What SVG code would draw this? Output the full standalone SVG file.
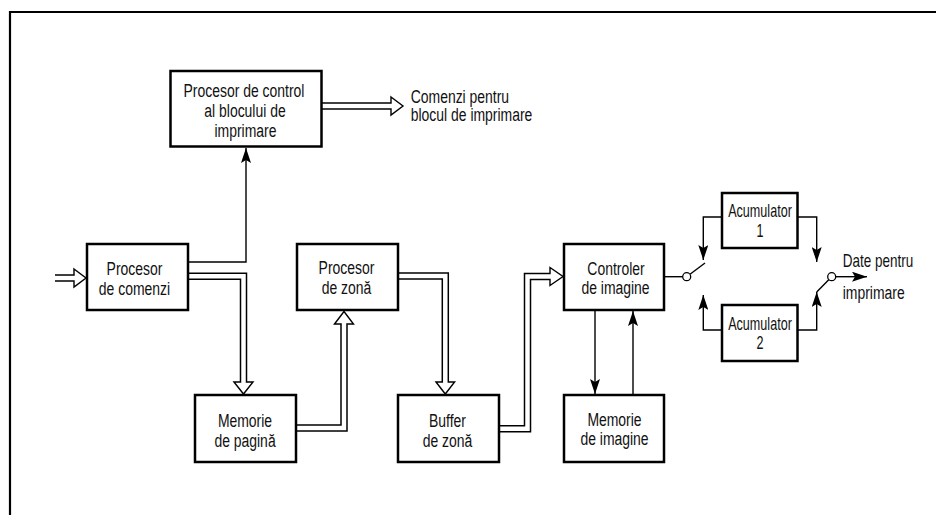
<svg xmlns="http://www.w3.org/2000/svg" width="936" height="515" viewBox="0 0 936 515">
<style>
.box{fill:#fff;stroke:#000;stroke-width:2.5}
.t{font-family:"Liberation Sans",Arial,sans-serif;font-size:18px;fill:#111}
.c{text-anchor:middle}
.hb{fill:none;stroke:#000;stroke-width:7.5;stroke-linejoin:miter}
.hw{fill:none;stroke:#fff;stroke-width:4.5;stroke-linejoin:miter}
.hh{fill:#fff;stroke:#000;stroke-width:1.4;stroke-linejoin:miter}
.ln{fill:none;stroke:#000;stroke-width:1.4}
.sw{fill:#fff;stroke:#000;stroke-width:1.3}
</style>
<defs>
<marker id="ar" viewBox="0 0 15 10" refX="15" refY="5" markerWidth="15" markerHeight="10" markerUnits="userSpaceOnUse" orient="auto">
<path d="M0,0 L15,5 L0,10 L3,5 Z" fill="#000"/>
</marker>
</defs>
<rect width="936" height="515" fill="#fff"/>
<path d="M10,515 V12 H936" fill="none" stroke="#000" stroke-width="2.2"/>
<g id="connectors">
<g id="h-input">
<path class="hb" d="M55,278 H75"/>
<polygon class="hh" points="74,269 86,278 74,287"/>
<path class="hw" d="M55,278 H75.5"/>
</g>
<g id="h-control-out">
<path class="hb" d="M321,106 H392"/>
<polygon class="hh" points="391,97 403,106 391,115"/>
<path class="hw" d="M321,106 H392.5"/>
</g>
<g id="h-cmd-page">
<path class="hb" d="M188,276.3 H243.5 V383"/>
<polygon class="hh" points="234,382 243.5,394 253,382"/>
<path class="hw" d="M188,276.3 H243.5 V383.5"/>
</g>
<g id="h-page-zone">
<path class="hb" d="M296,428 H344 V323"/>
<polygon class="hh" points="334.5,324 344,311.5 353.5,324"/>
<path class="hw" d="M296,428 H344 V322.5"/>
</g>
<g id="h-zone-buffer">
<path class="hb" d="M398,276 H445.3 V383"/>
<polygon class="hh" points="436,382 445.3,394 454.6,382"/>
<path class="hw" d="M398,276 H445.3 V383.5"/>
</g>
<g id="h-buffer-ctrl">
<path class="hb" d="M499,428.8 H527.5 V276.5 H551"/>
<polygon class="hh" points="550,267.5 563,276.5 550,285.5"/>
<path class="hw" d="M499,428.8 H527.5 V276.5 H551.5"/>
</g>
<path class="ln" d="M188,262 H246 V148" marker-end="url(#ar)"/>
<path class="ln" d="M595,311 V394" marker-end="url(#ar)"/>
<path class="ln" d="M633,394 V311" marker-end="url(#ar)"/>
<path class="ln" d="M664,276.7 H682.7"/>
<path class="ln" d="M690,274.3 L705,263"/>
<path class="ln" d="M722,217 H703.3 V260" marker-end="url(#ar)"/>
<path class="ln" d="M722,330 H703.3 V295" marker-end="url(#ar)"/>
<path class="ln" d="M797.5,217 H816.7 V262" marker-end="url(#ar)"/>
<path class="ln" d="M797.5,330 H816.7 V292" marker-end="url(#ar)"/>
<path class="ln" d="M829,279.5 L816.7,292"/>
<path class="ln" d="M835.7,276.7 H867" marker-end="url(#ar)"/>
<circle class="sw" cx="686.7" cy="276.7" r="4"/>
<circle class="sw" cx="831.7" cy="276.7" r="4"/>
</g>
<g id="control">
<rect class="box" x="170.5" y="71" width="151" height="75.5"/>
<text class="t c" transform="translate(244,97) scale(0.775,1)">Procesor de control</text>
<text class="t c" transform="translate(245,117) scale(0.775,1)">al blocului de</text>
<text class="t c" transform="translate(245.5,137) scale(0.775,1)">imprimare</text>
</g>
<g id="out-label">
<text class="t" transform="translate(410.7,102.5) scale(0.775,1)">Comenzi pentru</text>
<text class="t" transform="translate(410.7,121.3) scale(0.775,1)">blocul de imprimare</text>
</g>
<g id="cmd">
<rect class="box" x="87" y="244" width="101" height="66"/>
<text class="t c" transform="translate(134.5,274.5) scale(0.775,1)">Procesor</text>
<text class="t c" transform="translate(134.5,294.5) scale(0.775,1)">de comenzi</text>
</g>
<g id="zone">
<rect class="box" x="297" y="244" width="101" height="66"/>
<text class="t c" transform="translate(346.5,274) scale(0.775,1)">Procesor</text>
<text class="t c" transform="translate(346.5,294) scale(0.775,1)">de zonă</text>
</g>
<g id="ctrl">
<rect class="box" x="564" y="244" width="100" height="66"/>
<text class="t c" transform="translate(616,274.5) scale(0.775,1)">Controler</text>
<text class="t c" transform="translate(615.5,294) scale(0.775,1)">de imagine</text>
</g>
<g id="page">
<rect class="box" x="195" y="395" width="101" height="67"/>
<text class="t c" transform="translate(245,426.5) scale(0.775,1)">Memorie</text>
<text class="t c" transform="translate(245,446.5) scale(0.775,1)">de pagină</text>
</g>
<g id="buffer">
<rect class="box" x="398" y="395" width="101" height="67"/>
<text class="t c" transform="translate(447.5,426.5) scale(0.775,1)">Buffer</text>
<text class="t c" transform="translate(447.5,446.5) scale(0.775,1)">de zonă</text>
</g>
<g id="imgmem">
<rect class="box" x="564" y="395" width="100" height="67"/>
<text class="t c" transform="translate(614.5,425.5) scale(0.775,1)">Memorie</text>
<text class="t c" transform="translate(614.5,445) scale(0.775,1)">de imagine</text>
</g>
<g id="acc1">
<rect class="box" x="722" y="193" width="75.5" height="55"/>
<text class="t c" transform="translate(760,217) scale(0.7,1)">Acumulator</text>
<text class="t c" transform="translate(760,237) scale(0.7,1)">1</text>
</g>
<g id="acc2">
<rect class="box" x="722" y="305" width="75.5" height="56"/>
<text class="t c" transform="translate(760,329.5) scale(0.7,1)">Acumulator</text>
<text class="t c" transform="translate(760,349) scale(0.7,1)">2</text>
</g>
<g id="data-label">
<text class="t" transform="translate(842.7,267) scale(0.75,1)">Date pentru</text>
<text class="t" transform="translate(842.7,298.5) scale(0.775,1)">imprimare</text>
</g>
</svg>
